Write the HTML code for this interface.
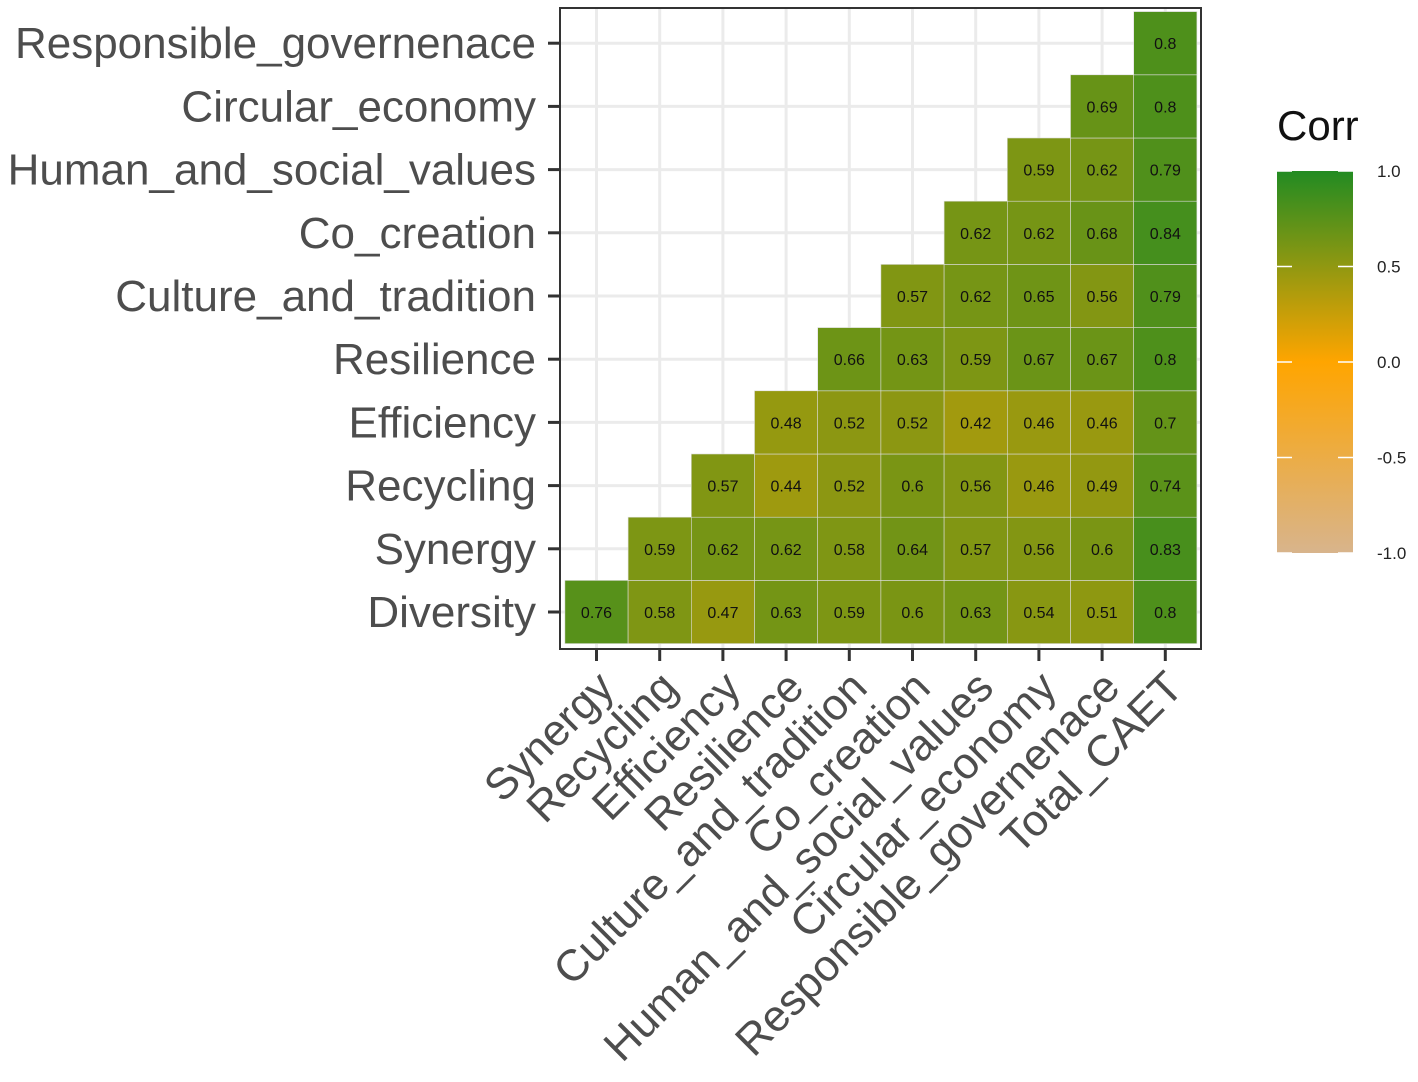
<!DOCTYPE html>
<html><head><meta charset="utf-8"><style>
body{margin:0;background:#fff}
svg text{font-family:"Liberation Sans",Arial,sans-serif}
</style></head><body>
<svg id="c" width="1418" height="1077" xmlns="http://www.w3.org/2000/svg">
<defs><linearGradient id="lg" x1="0" y1="1" x2="0" y2="0">
<stop offset="0" stop-color="#D8B48C"/><stop offset="0.5" stop-color="#FFA500"/><stop offset="1" stop-color="#228B22"/>
</linearGradient></defs>
</svg>
<script>
const categories=["Synergy","Recycling","Efficiency","Resilience","Culture_and_tradition","Co_creation","Human_and_social_values","Circular_economy","Responsible_governenace","Total_CAET"];
const rowLabels=["Diversity","Synergy","Recycling","Efficiency","Resilience","Culture_and_tradition","Co_creation","Human_and_social_values","Circular_economy","Responsible_governenace"];
const rowDiversity=[0.76,0.58,0.47,0.63,0.59,0.6,0.63,0.54,0.51,0.8];
const rowSynergy=[0.59,0.62,0.62,0.58,0.64,0.57,0.56,0.6,0.83];
const rowRecycling=[0.57,0.44,0.52,0.6,0.56,0.46,0.49,0.74];
const rowEfficiency=[0.48,0.52,0.52,0.42,0.46,0.46,0.7];
const rowResilience=[0.66,0.63,0.59,0.67,0.67,0.8];
const rowCulture=[0.57,0.62,0.65,0.56,0.79];
const rowCocreation=[0.62,0.62,0.68,0.84];
const rowHuman=[0.59,0.62,0.79];
const rowCircular=[0.69,0.8];
const rowResponsible=[0.8];
const legendTicks=[1.0,0.5,0.0,-0.5,-1.0];
const rows=[rowDiversity,rowSynergy,rowRecycling,rowEfficiency,rowResilience,rowCulture,rowCocreation,rowHuman,rowCircular,rowResponsible];

const svg=document.getElementById('c');
const NS='http://www.w3.org/2000/svg';
function mk(t,a,p){const e=document.createElementNS(NS,t);for(const k in a)e.setAttribute(k,a[k]);(p||svg).appendChild(e);return e;}
const cw=63.2, x0=596.5, yb=612;
const xs=i=>x0+i*cw;
const ys=i=>yb-i*cw;
function col(v){
  let a,b,t;
  if(v>=0){a=[255,165,0];b=[34,139,34];t=v;}else{a=[255,165,0];b=[216,180,140];t=-v;}
  return `rgb(${a.map((c,k)=>Math.round(c+(b[k]-c)*t)).join(',')})`;
}
for(let i=0;i<10;i++){
  let g=mk('line',{x1:xs(i),x2:xs(i),y1:8,y2:649,stroke:'#EBEBEB','stroke-width':3});
  
  g=mk('line',{x1:560,x2:1201,y1:ys(i),y2:ys(i),stroke:'#EBEBEB','stroke-width':3});
  
}
rows.forEach((r,ri)=>{
  const start=10-r.length;
  r.forEach((v,k)=>{
    const ci=start+k;
    const rc=mk('rect',{x:xs(ci)-cw/2,y:ys(ri)-cw/2,width:cw,height:cw,fill:col(v),stroke:'#ddd','stroke-width':0.6});
    
    
    const t=mk('text',{x:xs(ci),y:ys(ri)+6,'text-anchor':'middle','font-size':16,fill:'#111'});
    t.textContent=String(v);
    
    
  });
});
const pb=mk('rect',{x:560,y:8,width:641,height:641,fill:'none',stroke:'#333','stroke-width':2});

rowLabels.forEach((l,i)=>{
  mk('line',{x1:548,x2:560,y1:ys(i),y2:ys(i),stroke:'#333','stroke-width':3});
  const t=mk('text',{x:536,y:ys(i)+15,'text-anchor':'end','font-size':44,fill:'#4D4D4D'});
  t.textContent=l;
  
  
});
categories.forEach((l,i)=>{
  mk('line',{x1:xs(i),x2:xs(i),y1:649,y2:661,stroke:'#333','stroke-width':3});
  const t=mk('text',{x:0,y:0,'text-anchor':'end','font-size':44,fill:'#4D4D4D',transform:`translate(${xs(i)+20},${690}) rotate(-45)`});
  t.textContent=l;
  
  
});
const lt=mk('text',{x:1277,y:140,'font-size':42,fill:'#111'});lt.textContent='Corr';

const lb=mk('rect',{x:1277,y:171,width:76,height:382,fill:'url(#lg)'});

const ly=v=>362-v*191;
legendTicks.forEach(v=>{
  mk('line',{x1:1277,x2:1292,y1:ly(v),y2:ly(v),stroke:'#fff','stroke-width':1.5});
  mk('line',{x1:1338,x2:1353,y1:ly(v),y2:ly(v),stroke:'#fff','stroke-width':1.5});
  const t=mk('text',{x:1377,y:ly(v)+6,'font-size':17,fill:'#222'});
  t.textContent=v.toFixed(1);
  
  
});
</script>
</body></html>
